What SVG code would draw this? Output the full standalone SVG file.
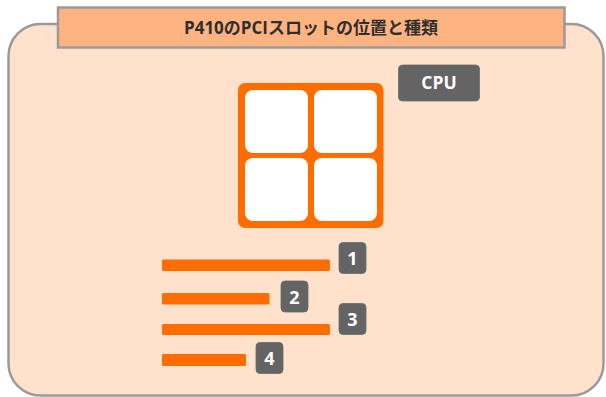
<svg xmlns="http://www.w3.org/2000/svg" width="606" height="397" viewBox="0 0 606 397">
<style>
.frame{fill:#FFE1CC;stroke:#9A9A9A;stroke-width:2.5}
.title{fill:#FFB380;stroke:#9A9A9A;stroke-width:2.5}
.ttl{font-family:"Open Sans","Noto Sans CJK JP",sans-serif;font-weight:bold;font-size:17px;fill:#2E2E2E;text-anchor:middle}
.org{fill:#FF6C00}
.cell{fill:#FFFFFF}
.badge{fill:#646464;stroke:#5E6E6E;stroke-width:0.8}
.lbl{font-family:"Open Sans","Noto Sans",sans-serif;font-weight:bold;fill:#FFFFFF;text-anchor:middle}
</style>
<rect class="frame" x="8.5" y="24" width="595" height="371.5" rx="32"/>
<g id="title">
<rect class="title" x="58" y="7.5" width="506.5" height="40"/>
<text class="ttl" x="311" y="33.5">P410のPCIスロットの位置と種類</text>
</g>
<g id="pci-grid">
<rect class="org" x="238" y="83" width="145.5" height="145" rx="7"/>
<rect class="cell" x="245" y="90" width="63" height="63" rx="8"/>
<rect class="cell" x="314" y="90" width="63" height="63" rx="8"/>
<rect class="cell" x="245" y="158" width="63" height="63" rx="8"/>
<rect class="cell" x="314" y="158" width="63" height="63" rx="8"/>
</g>
<g id="cpu">
<rect class="badge" x="398.5" y="65" width="81" height="36" rx="4"/>
<text class="lbl" x="439" y="89.3" font-size="17.5">CPU</text>
</g>
<g id="slot1">
<rect class="org" x="162" y="259.5" width="168" height="11.5" rx="1.5"/>
<rect class="badge" x="339" y="242.5" width="27" height="31" rx="4"/>
<text class="lbl" x="352.5" y="265" font-size="18">1</text>
</g>
<g id="slot2">
<rect class="org" x="162" y="293" width="107.5" height="11.5" rx="1.5"/>
<rect class="badge" x="281" y="281" width="27" height="31" rx="4"/>
<text class="lbl" x="294.5" y="303.5" font-size="18">2</text>
</g>
<g id="slot3">
<rect class="org" x="162" y="324" width="168" height="11" rx="1.5"/>
<rect class="badge" x="339" y="303.5" width="27" height="31" rx="4"/>
<text class="lbl" x="352.5" y="326" font-size="18">3</text>
</g>
<g id="slot4">
<rect class="org" x="162" y="354" width="84" height="12" rx="1.5"/>
<rect class="badge" x="256" y="342.5" width="27" height="31" rx="4"/>
<text class="lbl" x="269.5" y="365" font-size="18">4</text>
</g>
<g id="connectors"></g>
</svg>
